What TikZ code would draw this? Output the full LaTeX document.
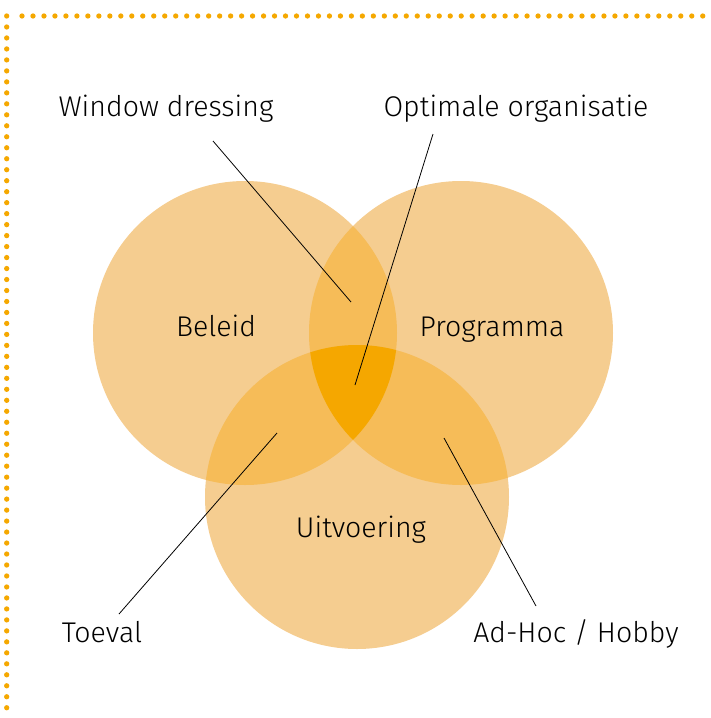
\documentclass[tikz,border=0pt]{standalone}
\usepackage{fontspec}
\setmainfont{Fira Sans Light}
\definecolor{dotorange}{HTML}{F5A800}
\definecolor{venna}{HTML}{F5CD90}
\definecolor{vennb}{HTML}{F6BC58}
\definecolor{vennc}{HTML}{F5A700}
\begin{document}
\begin{tikzpicture}[x=1pt,y=-1pt,
lbl/.style = {font=\fontsize{28.5}{34}\selectfont, inner sep=0pt, anchor=base},
pin/.style = {draw,thick,black},
dots/.style = {draw,dotorange,line width=5.3pt,line cap=round,dash pattern=on 0pt off 10.98pt}
]
  \useasboundingbox (0,0) rectangle (711,718);
  \path[dots] (22,16) -- (711,16);
  \path[dots] (6.7,16) -- (6.7,718);

  \coordinate (cb) at (245,333);
  \coordinate (cp) at (461,333);
  \coordinate (cu) at (357,497);
  \def\rad{152}

  \fill[venna] (cb) circle (\rad);
  \fill[venna] (cp) circle (\rad);
  \fill[venna] (cu) circle (\rad);
  \begin{scope}
    \clip (cb) circle (\rad);
    \fill[vennb] (cp) circle (\rad);
    \fill[vennb] (cu) circle (\rad);
  \end{scope}
  \begin{scope}
    \clip (cp) circle (\rad);
    \fill[vennb] (cu) circle (\rad);
  \end{scope}
  \begin{scope}
    \clip (cb) circle (\rad);
    \clip (cp) circle (\rad);
    \fill[vennc] (cu) circle (\rad);
  \end{scope}

  \node[lbl] (wd) at (166,116) {Window dressing};
  \node[lbl] (opt) at (516,116) {Optimale organisatie};
  \node[lbl] (bel) at (216,336) {Beleid};
  \node[lbl] (prog) at (492,336) {Programma};
  \node[lbl] (uitv) at (361,537) {Uitvoering};
  \node[lbl] (toev) at (102,642) {Toeval};
  \node[lbl] (adhoc) at (576,642) {Ad-Hoc / Hobby};

  \coordinate (wd-a) at (213,141);
  \coordinate (wd-b) at (351,302);
  \coordinate (opt-a) at (433,134);
  \coordinate (opt-b) at (355,385);
  \coordinate (toev-a) at (119,614);
  \coordinate (toev-b) at (277,433);
  \coordinate (adhoc-a) at (536,606);
  \coordinate (adhoc-b) at (444,438);

  \path[pin] (wd-a) -- (wd-b);
  \path[pin] (opt-a) -- (opt-b);
  \path[pin] (toev-a) -- (toev-b);
  \path[pin] (adhoc-a) -- (adhoc-b);
\end{tikzpicture}
\end{document}
